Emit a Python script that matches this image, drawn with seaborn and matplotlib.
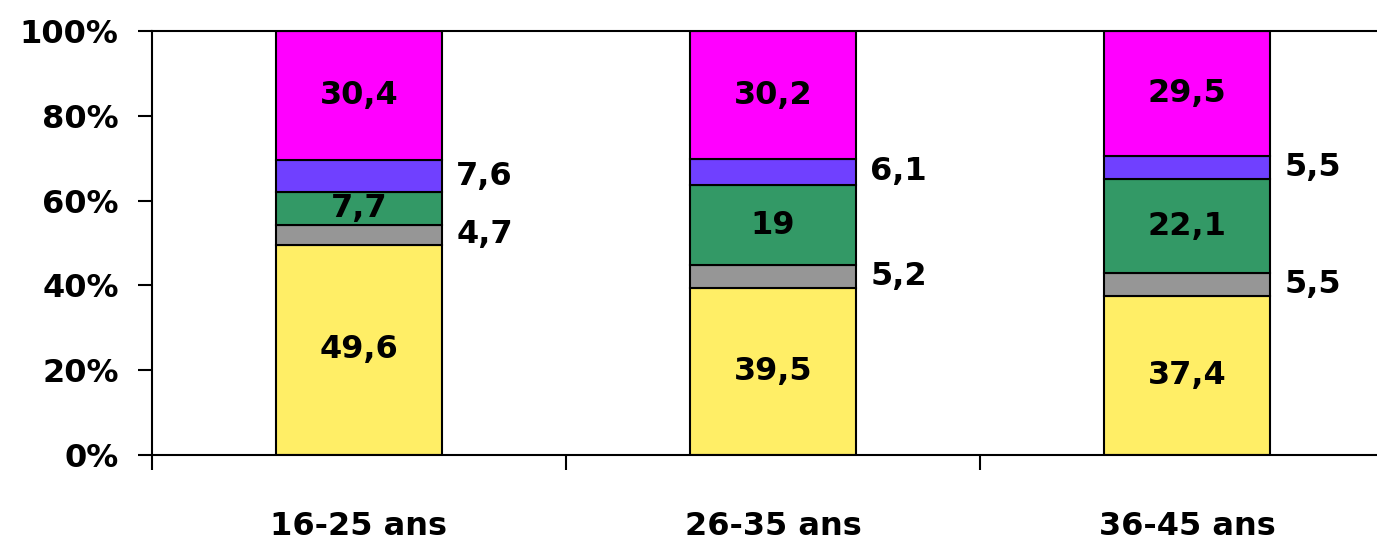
import numpy as np
import matplotlib
matplotlib.use("Agg")
from matplotlib import pyplot as plt
from matplotlib.ticker import FixedLocator, PercentFormatter
import seaborn as sns

categories = ["16-25 ans", "26-35 ans", "36-45 ans"]
yellow = [49.6, 39.5, 37.4]
gray = [4.7, 5.2, 5.5]
green = [7.7, 19, 22.1]
purple = [7.6, 6.1, 5.5]
magenta = [30.4, 30.2, 29.5]

series = [yellow, gray, green, purple, magenta]
colors = ["#FFEE66", "#969696", "#339966", "#7040FF", "#FF00FF"]
inside = [True, False, True, False, True]

sns.set_theme(style="white")
plt.rcParams['font.family'] = ['DejaVu Sans']
plt.rcParams['font.weight'] = 'bold'

fig = plt.figure(figsize=(13.77, 5.45), dpi=100)
ax = fig.add_axes([152 / 1377, 90 / 545, 1242 / 1377, 424 / 545])

bottom = np.zeros(len(categories))
for vals, c, ins in zip(series, colors, inside):
    sns.barplot(x=categories, y=vals, bottom=bottom, color=c, width=0.4,
                edgecolor="black", linewidth=1.5, saturation=1, ax=ax)
    for i, v in enumerate(vals):
        lab = f"{v:g}".replace(".", ",")
        mid = bottom[i] + v / 2
        if ins:
            ax.text(i, mid, lab, ha="center", va="center", fontsize=23,
                    fontweight="bold", color="black")
        else:
            ax.text(i + 0.235, mid, lab, ha="left", va="center", fontsize=23,
                    fontweight="bold", color="black")
    bottom += np.array(vals)

ax.set_xlim(-0.5, 2.5)
ax.set_ylim(0, 100)
ax.set_yticks([0, 20, 40, 60, 80, 100])
ax.yaxis.set_major_formatter(PercentFormatter(decimals=0))
ax.xaxis.set_major_locator(FixedLocator([-0.5, 0.5, 1.5, 2.5]))
ax.xaxis.set_minor_locator(FixedLocator([0, 1, 2]))
ax.set_xticklabels([], minor=False)
ax.set_xticklabels(categories, minor=True)
ax.tick_params(axis="x", which="major", direction="out", length=11, width=1.5, color="black")
ax.tick_params(axis="x", which="minor", length=0, pad=40, labelsize=23, labelcolor="black")
ax.tick_params(axis="y", direction="out", length=10, width=1.5, color="black",
               labelsize=23, pad=14, labelcolor="black")
ax.tick_params(bottom=True, left=True)
for lbl in ax.get_xticklabels(minor=True) + ax.get_yticklabels():
    lbl.set_fontweight("bold")
for s in ax.spines.values():
    s.set_color("black")
    s.set_linewidth(1.5)
ax.set_xlabel("")
ax.set_ylabel("")

fig.savefig("out.png", dpi=100)
